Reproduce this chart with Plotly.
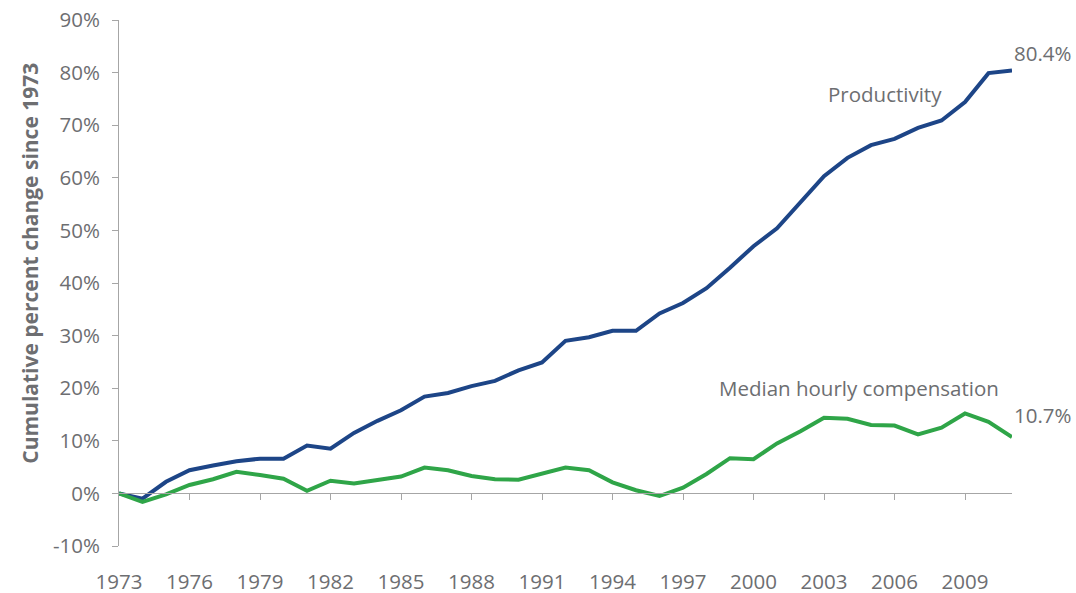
import plotly.graph_objects as go

years = list(range(1973, 2012))
productivity = [0.0, -1.0, 2.2, 4.4, 5.3, 6.1, 6.6, 6.6, 9.1, 8.5,
                11.5, 13.8, 15.8, 18.4, 19.1, 20.4, 21.4, 23.4, 24.9, 29.0,
                29.7, 30.9, 30.9, 34.2, 36.2, 39.0, 42.9, 47.0, 50.4, 55.4,
                60.3, 63.8, 66.2, 67.4, 69.5, 70.9, 74.4, 79.9, 80.4]
compensation = [0.0, -1.6, -0.2, 1.6, 2.7, 4.1, 3.5, 2.8, 0.5, 2.4,
                1.9, 2.5, 3.2, 4.9, 4.4, 3.3, 2.7, 2.6, 3.7, 4.9,
                4.4, 2.1, 0.6, -0.5, 1.1, 3.7, 6.7, 6.5, 9.5, 11.8,
                14.4, 14.2, 13.0, 12.9, 11.2, 12.5, 15.2, 13.6, 10.7]
xtick_years = list(range(1973, 2010, 3))
xtick_labels = [str(y) for y in xtick_years]
ytick_vals = list(range(-10, 100, 10))
ytick_labels = [f"{v}%" for v in ytick_vals]

FONT = "Open Sans"
GRAY = "#6d6e71"
AXIS = "#a6a6a6"
BLUE = "#1d4587"
GREEN = "#2fa548"
FS = 20.5

fig = go.Figure()
fig.add_trace(go.Scatter(x=years, y=productivity, mode="lines",
                         line=dict(color=BLUE, width=4), name="Productivity",
                         hoverinfo="skip"))
fig.add_trace(go.Scatter(x=years, y=compensation, mode="lines",
                         line=dict(color=GREEN, width=4),
                         name="Median hourly compensation", hoverinfo="skip"))
# invisible trace so the zero-line axis is drawn
fig.add_trace(go.Scatter(x=[years[0]], y=[0], mode="markers",
                         marker=dict(opacity=0), xaxis="x2", yaxis="y",
                         showlegend=False, hoverinfo="skip"))

fig.update_layout(
    template="none",
    width=1076, height=593,
    margin=dict(l=119, r=64, t=20, b=47),
    plot_bgcolor="white", paper_bgcolor="white",
    showlegend=False,
    font=dict(family=FONT, color=GRAY, size=FS),
    xaxis=dict(range=[years[0], years[-1]], tickmode="array",
               tickvals=xtick_years, ticktext=xtick_labels,
               showline=False, showgrid=False, zeroline=False, ticks="",
               ticklabelstandoff=21, automargin=False,
               ticklabeloverflow="allow",
               tickfont=dict(family=FONT, size=FS, color=GRAY)),
    xaxis2=dict(range=[years[0], years[-1]], overlaying="x", anchor="free",
                position=0.1, side="bottom", showline=True, linecolor=AXIS,
                linewidth=1, ticks="outside", ticklen=6, tickcolor=AXIS,
                tickmode="array", tickvals=xtick_years[1:], automargin=False,
                showticklabels=False, showgrid=False, zeroline=False),
    yaxis=dict(range=[-10, 90], tickmode="array", tickvals=ytick_vals,
               ticktext=ytick_labels, showline=True, linecolor=AXIS,
               linewidth=1, ticks="outside", ticklen=6, tickcolor=AXIS,
               showgrid=False, zeroline=False, ticklabelstandoff=8,
               automargin=False, ticklabeloverflow="allow",
               tickfont=dict(family=FONT, size=FS, color=GRAY)),
)

fig.add_annotation(xref="paper", yref="paper", x=-0.1, y=0.538,
                   text="<b>Cumulative percent change since 1973</b>",
                   textangle=-90, showarrow=False, xanchor="center",
                   yanchor="middle",
                   font=dict(family=FONT, size=21, color=GRAY))
fig.add_annotation(x=2005.6, y=76.0, text="Productivity", showarrow=False,
                   font=dict(family=FONT, size=FS, color=GRAY))
fig.add_annotation(x=2004.5, y=20.0, text="Median hourly compensation",
                   showarrow=False, font=dict(family=FONT, size=FS, color=GRAY))
fig.add_annotation(x=years[-1], y=productivity[-1], text=f"{productivity[-1]}%",
                   showarrow=False, xanchor="left", yanchor="middle",
                   xshift=0, yshift=18,
                   font=dict(family=FONT, size=FS, color=GRAY))
fig.add_annotation(x=years[-1], y=compensation[-1], text=f"{compensation[-1]}%",
                   showarrow=False, xanchor="left", yanchor="middle",
                   xshift=0, yshift=22,
                   font=dict(family=FONT, size=FS, color=GRAY))

fig.write_html("out.html",
               config={"displayModeBar": False},
               post_script="document.body.style.margin='0';"
                           "document.body.style.overflow='hidden';")
